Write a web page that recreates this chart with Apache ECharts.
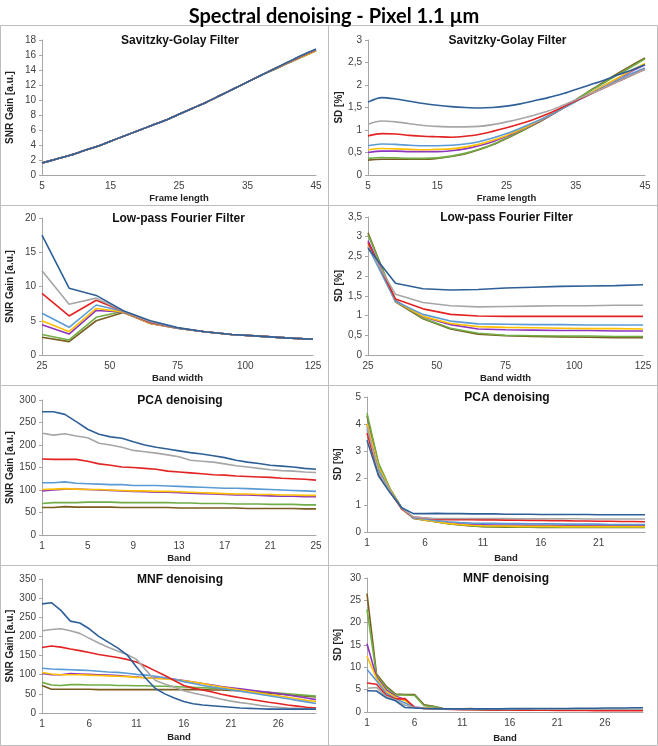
<!DOCTYPE html>
<html>
<head>
<meta charset="utf-8">
<script src="https://cdn.jsdelivr.net/npm/echarts@6/dist/echarts.min.js"></script>
<style>
html,body{margin:0;padding:0;background:#fff;}
#chart{width:658px;height:746px;}
</style>
</head>
<body>
<div id="chart"></div>
<script>
// ---------- data ----------
const seriesNames = ['Series 1','Series 2','Series 3','Series 4','Series 5','Series 6','Series 7','Series 8'];
const seriesColors = ['#2E6097','#A6A6A6','#E32222','#5B9BD5','#FFC000','#8E35C0','#70AD47','#7A5C1E'];

const sgFrames = ['5','7','9','11','13','15','17','19','21','23','25','27','29','31','33','35','37','39','41','43','45'];
const lpfBands = [25,35,45,55,65,75,85,95,105,115,125];
const pcaBands = ['1','2','3','4','5','6','7','8','9','10','11','12','13','14','15','16','17','18','19','20','21','22','23','24','25'];
const mnfBands = ['1','2','3','4','5','6','7','8','9','10','11','12','13','14','15','16','17','18','19','20','21','22','23','24','25','26','27','28','29','30'];

const sgSnr = [
  [1.6,2.1,2.6,3.2,3.8,4.5,5.2,5.9,6.6,7.3,8.1,8.9,9.7,10.6,11.5,12.4,13.3,14.2,15.1,16.0,16.8],
  [1.6,2.1,2.6,3.2,3.8,4.5,5.2,5.9,6.6,7.3,8.1,8.9,9.7,10.6,11.5,12.4,13.3,14.2,15.1,15.95,16.75],
  [1.6,2.1,2.6,3.2,3.8,4.5,5.2,5.9,6.6,7.3,8.1,8.9,9.7,10.6,11.5,12.4,13.3,14.2,15.05,15.9,16.7],
  [1.6,2.1,2.6,3.2,3.8,4.5,5.2,5.9,6.6,7.3,8.1,8.9,9.7,10.6,11.5,12.4,13.3,14.2,15.05,15.9,16.7],
  [1.6,2.1,2.6,3.2,3.8,4.5,5.2,5.9,6.6,7.3,8.1,8.9,9.7,10.6,11.5,12.4,13.3,14.15,15.0,15.8,16.6],
  [1.6,2.1,2.6,3.2,3.8,4.5,5.2,5.9,6.6,7.3,8.1,8.9,9.7,10.6,11.5,12.4,13.3,14.15,15.0,15.85,16.65],
  [1.6,2.1,2.6,3.2,3.8,4.5,5.2,5.9,6.6,7.3,8.1,8.9,9.7,10.6,11.5,12.4,13.3,14.1,14.95,15.8,16.6],
  [1.6,2.1,2.6,3.2,3.8,4.5,5.2,5.9,6.6,7.3,8.1,8.9,9.7,10.6,11.5,12.4,13.3,14.1,14.95,15.75,16.55]
];
const sgSd = [
  [1.62,1.72,1.69,1.64,1.59,1.55,1.52,1.50,1.49,1.50,1.53,1.58,1.65,1.72,1.80,1.90,2.00,2.10,2.22,2.33,2.45],
  [1.13,1.20,1.18,1.14,1.10,1.08,1.07,1.07,1.08,1.12,1.18,1.25,1.33,1.42,1.54,1.67,1.80,1.93,2.07,2.21,2.35],
  [0.87,0.92,0.91,0.88,0.86,0.85,0.84,0.86,0.90,0.97,1.05,1.14,1.24,1.36,1.50,1.65,1.79,1.93,2.07,2.21,2.35],
  [0.65,0.69,0.68,0.66,0.65,0.65,0.66,0.69,0.74,0.82,0.92,1.04,1.17,1.31,1.47,1.63,1.79,1.95,2.10,2.25,2.38],
  [0.56,0.59,0.58,0.57,0.56,0.57,0.58,0.62,0.68,0.77,0.88,1.01,1.15,1.31,1.47,1.64,1.81,1.98,2.15,2.32,2.48],
  [0.50,0.53,0.53,0.52,0.52,0.52,0.54,0.58,0.65,0.74,0.86,1.00,1.14,1.30,1.47,1.64,1.81,1.98,2.14,2.30,2.45],
  [0.37,0.39,0.38,0.37,0.37,0.38,0.42,0.48,0.57,0.68,0.82,0.97,1.13,1.30,1.48,1.67,1.86,2.04,2.22,2.40,2.58],
  [0.33,0.35,0.35,0.35,0.35,0.37,0.41,0.47,0.56,0.67,0.81,0.96,1.12,1.29,1.47,1.67,1.87,2.06,2.25,2.43,2.60]
];
const lpfSnr = [
  [17.5,9.75,8.7,6.45,5.0,4.0,3.4,3.0,2.75,2.5,2.3],
  [12.3,7.4,8.3,6.4,4.85,3.95,3.4,3.0,2.75,2.5,2.3],
  [9.0,5.7,8.0,6.4,4.75,3.95,3.4,3.0,2.75,2.5,2.3],
  [6.1,4.05,7.3,6.4,4.7,3.9,3.4,3.0,2.75,2.5,2.3],
  [5.0,3.4,6.8,6.3,4.6,3.9,3.4,3.0,2.75,2.5,2.3],
  [4.4,3.05,6.5,6.3,4.6,3.9,3.4,3.0,2.75,2.5,2.3],
  [3.0,2.2,5.5,6.4,4.7,3.9,3.4,3.0,2.75,2.5,2.3],
  [2.6,1.95,5.0,6.2,4.6,3.9,3.4,3.0,2.75,2.5,2.3]
];
const lpfSd = [
  [2.71,1.82,1.68,1.65,1.66,1.70,1.72,1.74,1.75,1.76,1.78],
  [2.75,1.54,1.33,1.25,1.22,1.23,1.24,1.25,1.25,1.26,1.26],
  [2.85,1.42,1.17,1.03,0.99,0.98,0.98,0.98,0.98,0.98,0.98],
  [2.75,1.36,1.03,0.86,0.79,0.78,0.77,0.77,0.76,0.76,0.76],
  [2.80,1.36,0.98,0.80,0.72,0.70,0.69,0.68,0.67,0.67,0.66],
  [2.90,1.38,0.97,0.77,0.66,0.64,0.63,0.62,0.62,0.61,0.61],
  [3.05,1.38,0.93,0.68,0.55,0.50,0.49,0.48,0.48,0.47,0.47],
  [3.10,1.35,0.92,0.66,0.53,0.49,0.47,0.46,0.45,0.44,0.44]
];
const pcaSnr = [
  [274,274,268,252,235,224,218,215,207,200,195,191,187,183,180,176,172,166,162,159,155,153,151,148,146],
  [226,222,225,220,216,204,200,195,188,185,182,178,174,166,164,162,158,154,151,148,145,143,142,140,139],
  [169,168,168,168,164,158,155,151,150,148,146,142,140,138,136,134,133,131,130,129,128,126,125,124,122],
  [116,116,118,115,114,113,112,112,110,110,110,109,108,107,106,105,104,104,103,102,101,100,99,98,97],
  [101,102,103,102,101,101,100,99,98,98,97,97,96,95,94,93,92,91,91,90,90,89,89,88,88],
  [98,100,102,102,101,100,99,98,97,96,95,95,94,93,92,91,90,89,89,88,87,86,86,85,85],
  [70,72,72,72,73,73,73,72,72,72,72,72,71,71,70,70,70,69,69,69,68,68,68,67,67],
  [61,61,63,62,62,62,62,61,61,61,61,61,60,60,60,60,60,60,59,59,59,59,59,58,58]
];
const pcaSd = [
  [3.4,2.07,1.45,0.9,0.68,0.68,0.69,0.68,0.68,0.67,0.67,0.67,0.66,0.66,0.66,0.65,0.65,0.65,0.65,0.65,0.64,0.64,0.64,0.64,0.64],
  [3.9,2.2,1.5,0.88,0.56,0.52,0.5,0.5,0.5,0.5,0.5,0.5,0.5,0.49,0.49,0.49,0.49,0.49,0.49,0.48,0.48,0.48,0.48,0.48,0.48],
  [3.67,2.15,1.48,0.85,0.55,0.52,0.47,0.46,0.46,0.46,0.45,0.45,0.44,0.44,0.43,0.43,0.42,0.42,0.41,0.41,0.4,0.4,0.39,0.39,0.38],
  [3.8,2.3,1.5,0.88,0.52,0.48,0.42,0.38,0.35,0.33,0.32,0.32,0.31,0.31,0.3,0.3,0.3,0.29,0.29,0.29,0.29,0.28,0.28,0.28,0.28],
  [4.0,2.4,1.55,0.86,0.52,0.45,0.38,0.32,0.28,0.25,0.23,0.22,0.22,0.21,0.21,0.21,0.21,0.2,0.2,0.2,0.2,0.2,0.2,0.2,0.2],
  [4.0,2.35,1.53,0.87,0.52,0.46,0.4,0.34,0.3,0.28,0.27,0.26,0.26,0.26,0.25,0.25,0.25,0.25,0.25,0.25,0.25,0.25,0.25,0.25,0.25],
  [4.4,2.55,1.6,0.9,0.52,0.45,0.38,0.32,0.27,0.23,0.21,0.2,0.2,0.19,0.19,0.19,0.19,0.18,0.18,0.18,0.18,0.18,0.18,0.18,0.18],
  [4.3,2.5,1.58,0.88,0.5,0.44,0.37,0.31,0.26,0.22,0.2,0.19,0.18,0.18,0.18,0.17,0.17,0.17,0.17,0.17,0.17,0.17,0.17,0.17,0.17]
];
const mnfSnr = [
  [285,288,268,240,235,220,200,185,170,152,120,90,64,50,39,30,24,21,19,17,15,13,12,11,10,10,10,10,10,10],
  [215,218,220,215,208,195,183,172,162,153,140,112,85,76,68,58,52,47,42,36,31,27,24,20,17,15,13,12,11,10],
  [171,175,172,167,163,158,153,149,145,140,133,122,110,98,85,72,65,60,55,49,44,40,36,32,28,25,21,18,15,13],
  [117,115,114,113,112,111,109,107,106,104,101,99,96,92,88,82,77,72,68,64,60,57,53,49,45,41,37,33,29,25],
  [106,102,100,100,100,99,98,97,96,95,93,92,90,89,87,84,81,77,72,68,64,60,56,52,48,45,41,37,33,30],
  [103,100,100,103,102,101,100,99,98,96,94,92,91,90,88,85,81,77,73,69,66,63,60,57,54,51,47,43,39,35],
  [80,73,72,74,74,73,73,73,72,72,71,71,70,70,69,68,67,66,65,64,62,60,58,56,54,52,50,48,46,44],
  [72,62,62,62,62,62,61,61,61,61,61,61,61,61,61,61,61,61,60,60,59,58,56,54,52,50,48,46,44,42]
];
const mnfSd = [
  [4.75,4.7,3.2,2.5,1.0,0.9,0.8,0.75,0.7,0.7,0.7,0.7,0.7,0.7,0.7,0.75,0.75,0.75,0.8,0.8,0.8,0.8,0.85,0.85,0.85,0.9,0.9,0.9,0.95,0.95],
  [5.3,5.5,3.5,2.7,1.5,1.0,0.8,0.7,0.65,0.6,0.6,0.6,0.6,0.6,0.6,0.6,0.6,0.6,0.6,0.6,0.6,0.6,0.6,0.6,0.6,0.6,0.6,0.6,0.6,0.6],
  [6.5,6.2,3.8,2.9,3.0,1.0,0.8,0.7,0.6,0.55,0.5,0.5,0.5,0.45,0.45,0.45,0.4,0.4,0.4,0.4,0.35,0.35,0.35,0.35,0.3,0.3,0.3,0.3,0.3,0.3],
  [9.5,7.0,4.2,3.0,2.0,1.0,0.8,0.7,0.6,0.6,0.55,0.55,0.5,0.5,0.5,0.5,0.5,0.5,0.5,0.5,0.5,0.5,0.5,0.5,0.5,0.5,0.5,0.5,0.5,0.5],
  [12.5,7.5,4.6,3.3,2.5,1.0,0.9,0.8,0.7,0.6,0.6,0.55,0.5,0.5,0.5,0.45,0.45,0.45,0.45,0.45,0.4,0.4,0.4,0.4,0.4,0.4,0.4,0.4,0.4,0.4],
  [15.3,7.8,5.0,3.5,2.8,1.1,0.9,0.8,0.7,0.65,0.6,0.6,0.55,0.5,0.5,0.5,0.5,0.5,0.5,0.5,0.5,0.5,0.5,0.5,0.5,0.5,0.5,0.5,0.5,0.5],
  [23.0,8.2,5.5,3.8,3.8,3.7,1.4,1.2,0.7,0.6,0.6,0.6,0.55,0.5,0.5,0.5,0.5,0.5,0.5,0.5,0.5,0.5,0.5,0.5,0.5,0.5,0.5,0.5,0.5,0.5],
  [26.5,8.5,5.8,4.0,3.9,3.9,1.6,1.3,0.8,0.7,0.7,0.8,0.5,0.5,0.5,0.5,0.5,0.5,0.5,0.5,0.5,0.5,0.5,0.5,0.5,0.5,0.5,0.5,0.5,0.5]
];

const mainTitle = 'Spectral denoising - Pixel 1.1 µm';
const panelTitles = ['Savitzky-Golay Filter','Savitzky-Golay Filter','Low-pass Fourier Filter','Low-pass Fourier Filter','PCA denoising','PCA denoising','MNF denoising','MNF denoising'];
const yTitles = ['SNR Gain [a.u.]','SD [%]','SNR Gain [a.u.]','SD [%]','SNR Gain [a.u.]','SD [%]','SNR Gain [a.u.]','SD [%]'];
const xTitles = ['Frame length','Frame length','Band width','Band width','Band','Band','Band','Band'];

// ---------- layout ----------
const FONT = '"Liberation Sans", Arial, sans-serif';
const TXT = '#404040';
const AX = '#A6A6A6';
const grids = [
  {left:42, top:40, width:274, height:135},
  {left:368, top:40, width:277, height:135},
  {left:42, top:218, width:271, height:137},
  {left:368, top:217, width:275, height:138},
  {left:42, top:400, width:274, height:135},
  {left:367, top:397, width:278, height:135},
  {left:42, top:579, width:274, height:134},
  {left:367, top:578, width:276, height:134}
];
const yCfg = [
  {max:18, interval:2, gap:27},
  {max:3, interval:0.5, gap:24},
  {max:20, interval:5, gap:27},
  {max:3.5, interval:0.5, gap:24},
  {max:300, interval:50, gap:27},
  {max:5, interval:1, gap:24},
  {max:350, interval:50, gap:27},
  {max:30, interval:5, gap:24}
];
const xNameGap = [18,18,18,18,18,21,19,21];
const panelData = [sgSnr, sgSd, lpfSnr, lpfSd, pcaSnr, pcaSd, mnfSnr, mnfSd];

const comma = v => String(v).replace('.', ',');

const xAxes = grids.map((g, i) => {
  const base = {
    gridIndex: i,
    name: xTitles[i],
    nameLocation: 'middle',
    nameGap: xNameGap[i],
    nameTextStyle: {fontFamily: FONT, fontWeight: 'bold', fontSize: 9.5, color: '#222'},
    axisLine: {show: true, lineStyle: {color: AX, width: 1}},
    axisTick: {show: false},
    splitLine: {show: false},
    axisLabel: {fontFamily: FONT, fontSize: 10, color: TXT, margin: 6}
  };
  if (i === 2 || i === 3) {
    return Object.assign(base, {type: 'value', min: 25, max: 125, interval: 25});
  }
  let cats, intv;
  if (i < 2) { cats = sgFrames; intv = 4; }
  else if (i < 6) { cats = pcaBands; intv = (i === 4) ? 3 : 4; }
  else { cats = mnfBands; intv = 4; }
  base.axisLabel.interval = intv;
  return Object.assign(base, {type: 'category', data: cats, boundaryGap: false});
});

const yAxes = grids.map((g, i) => ({
  gridIndex: i,
  type: 'value',
  min: 0,
  max: yCfg[i].max,
  interval: yCfg[i].interval,
  name: yTitles[i],
  nameLocation: 'middle',
  nameGap: yCfg[i].gap,
  nameRotate: 90,
  nameTextStyle: {fontFamily: FONT, fontWeight: 'bold', fontSize: 10, color: '#222'},
  axisLine: {show: true, lineStyle: {color: AX, width: 1}},
  axisTick: {show: true, inside: false, length: 3, lineStyle: {color: AX}},
  splitLine: {show: false},
  axisLabel: {fontFamily: FONT, fontSize: 10, color: TXT, margin: 6, formatter: comma}
}));

const series = [];
panelData.forEach((rows, p) => {
  for (let k = rows.length - 1; k >= 0; k--) {
    let data;
    if (p === 2 || p === 3) data = rows[k].map((v, j) => [lpfBands[j], v]);
    else data = rows[k];
    series.push({
      type: 'line',
      name: seriesNames[k],
      xAxisIndex: p,
      yAxisIndex: p,
      data: data,
      showSymbol: false,
      symbol: 'none',
      smooth: (p < 2) ? 0.3 : false,
      lineStyle: {color: seriesColors[k], width: 1.6},
      itemStyle: {color: seriesColors[k]},
      animation: false,
      silent: true
    });
  }
});

const titles = [{
  text: mainTitle,
  left: 329, top: 2, textAlign: 'center',
  textStyle: {fontFamily: 'Lato, "Open Sans", sans-serif', fontWeight: 'bold', fontSize: 20, color: '#000'}
}];
grids.forEach((g, i) => {
  titles.push({
    text: panelTitles[i],
    left: g.left + g.width / 2 - 4,
    top: g.top - 10,
    textAlign: 'center',
    textStyle: {fontFamily: FONT, fontWeight: 'bold', fontSize: 12, color: '#111'}
  });
});

const BC = '#BDBDBD';
const graphic = [
  {type: 'rect', shape: {x: 0.5, y: 25.5, width: 657, height: 720}, style: {fill: 'none', stroke: BC, lineWidth: 1}, silent: true},
  {type: 'line', shape: {x1: 328.5, y1: 25.5, x2: 328.5, y2: 745.5}, style: {stroke: BC, lineWidth: 1}, silent: true},
  {type: 'line', shape: {x1: 0.5, y1: 205.5, x2: 657.5, y2: 205.5}, style: {stroke: BC, lineWidth: 1}, silent: true},
  {type: 'line', shape: {x1: 0.5, y1: 385.5, x2: 657.5, y2: 385.5}, style: {stroke: BC, lineWidth: 1}, silent: true},
  {type: 'line', shape: {x1: 0.5, y1: 565.5, x2: 657.5, y2: 565.5}, style: {stroke: BC, lineWidth: 1}, silent: true}
];

const chart = echarts.init(document.getElementById('chart'), null, {renderer: 'canvas'});
chart.setOption({
  animation: false,
  backgroundColor: '#fff',
  title: titles,
  grid: grids.map(g => Object.assign({containLabel: false}, g)),
  xAxis: xAxes,
  yAxis: yAxes,
  series: series,
  graphic: graphic
});
</script>
</body>
</html>
